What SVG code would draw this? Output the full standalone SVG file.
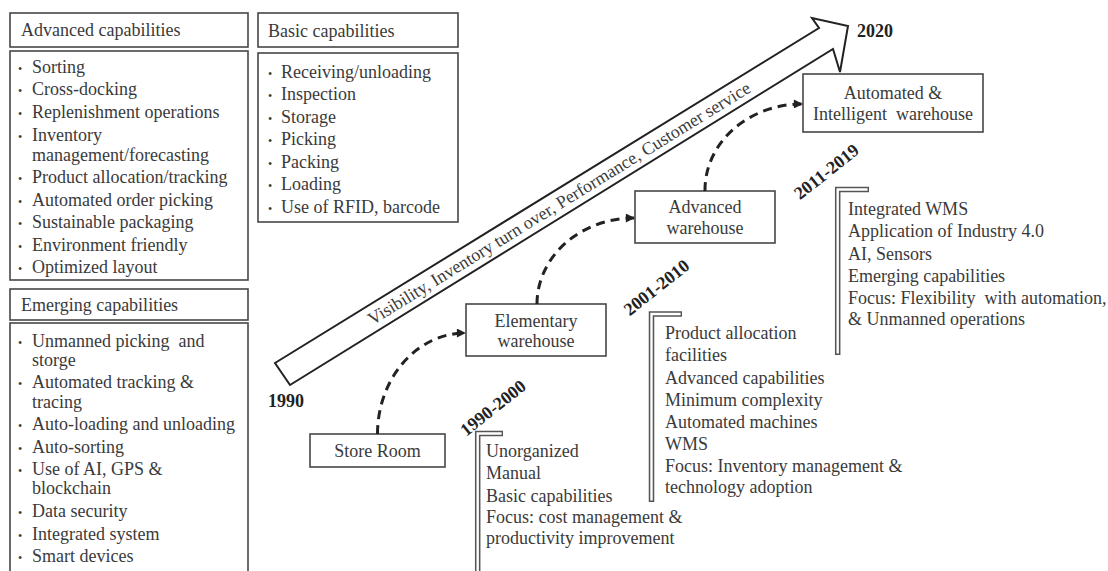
<svg xmlns="http://www.w3.org/2000/svg" width="1108" height="571" viewBox="0 0 1108 571">
<defs>
<style>
.box{fill:#fff;stroke:#474747;stroke-width:1.6}
.t{font-family:"Liberation Serif","Times New Roman",serif;font-size:18px;fill:#3a3a3a}
.c{text-anchor:middle}
.yr{font-family:"Liberation Serif","Times New Roman",serif;font-size:18px;font-weight:bold;fill:#222}
.b{font-size:12px}
.dash{fill:none;stroke:#222;stroke-width:3;stroke-dasharray:9 6}
.brO{fill:none;stroke:#555;stroke-width:5.5;stroke-linejoin:miter}
.brI{fill:none;stroke:#fff;stroke-width:2.4;stroke-linejoin:miter}
</style>
<marker id="ah" viewBox="0 0 10 10" refX="9" refY="5" markerWidth="10" markerHeight="9" markerUnits="userSpaceOnUse" orient="auto">
<path d="M0,0 L10,5 L0,10 Z" fill="#222"/>
</marker>
</defs>

<g id="advanced-capabilities">
<rect class="box" x="10" y="13" width="238" height="34"/>
<text class="t" x="21" y="36">Advanced capabilities</text>
<rect class="box" x="10" y="51" width="238" height="229"/>
<text class="t" x="18" y="73"><tspan class="b">•</tspan></text><text class="t" x="32" y="73">Sorting</text>
<text class="t" x="18" y="95"><tspan class="b">•</tspan></text><text class="t" x="32" y="95">Cross-docking</text>
<text class="t" x="18" y="118"><tspan class="b">•</tspan></text><text class="t" x="32" y="118">Replenishment operations</text>
<text class="t" x="18" y="141"><tspan class="b">•</tspan></text><text class="t" x="32" y="141">Inventory</text>
<text class="t" x="32" y="161">management/forecasting</text>
<text class="t" x="18" y="183"><tspan class="b">•</tspan></text><text class="t" x="32" y="183">Product allocation/tracking</text>
<text class="t" x="18" y="206"><tspan class="b">•</tspan></text><text class="t" x="32" y="206">Automated order picking</text>
<text class="t" x="18" y="228"><tspan class="b">•</tspan></text><text class="t" x="32" y="228">Sustainable packaging</text>
<text class="t" x="18" y="251"><tspan class="b">•</tspan></text><text class="t" x="32" y="251">Environment friendly</text>
<text class="t" x="18" y="273"><tspan class="b">•</tspan></text><text class="t" x="32" y="273">Optimized layout</text>
</g>

<g id="emerging-capabilities">
<rect class="box" x="10" y="289" width="238" height="31"/>
<text class="t" x="21" y="311">Emerging capabilities</text>
<rect class="box" x="10" y="323" width="238" height="260"/>
<text class="t" x="18" y="347"><tspan class="b">•</tspan></text><text class="t" x="32" y="347" xml:space="preserve">Unmanned picking  and</text>
<text class="t" x="32" y="366">storge</text>
<text class="t" x="18" y="388"><tspan class="b">•</tspan></text><text class="t" x="32" y="388">Automated tracking &amp;</text>
<text class="t" x="32" y="408">tracing</text>
<text class="t" x="18" y="430"><tspan class="b">•</tspan></text><text class="t" x="32" y="430">Auto-loading and unloading</text>
<text class="t" x="18" y="453"><tspan class="b">•</tspan></text><text class="t" x="32" y="453">Auto-sorting</text>
<text class="t" x="18" y="475"><tspan class="b">•</tspan></text><text class="t" x="32" y="475">Use of AI, GPS &amp;</text>
<text class="t" x="32" y="494">blockchain</text>
<text class="t" x="18" y="517"><tspan class="b">•</tspan></text><text class="t" x="32" y="517">Data security</text>
<text class="t" x="18" y="540"><tspan class="b">•</tspan></text><text class="t" x="32" y="540">Integrated system</text>
<text class="t" x="18" y="562"><tspan class="b">•</tspan></text><text class="t" x="32" y="562">Smart devices</text>
</g>

<g id="basic-capabilities">
<rect class="box" x="258" y="13" width="200" height="34"/>
<text class="t" x="268" y="37">Basic capabilities</text>
<rect class="box" x="258" y="53" width="200" height="169"/>
<text class="t" x="268" y="78"><tspan class="b">•</tspan></text><text class="t" x="281" y="78">Receiving/unloading</text>
<text class="t" x="268" y="100"><tspan class="b">•</tspan></text><text class="t" x="281" y="100">Inspection</text>
<text class="t" x="268" y="123"><tspan class="b">•</tspan></text><text class="t" x="281" y="123">Storage</text>
<text class="t" x="268" y="145"><tspan class="b">•</tspan></text><text class="t" x="281" y="145">Picking</text>
<text class="t" x="268" y="168"><tspan class="b">•</tspan></text><text class="t" x="281" y="168">Packing</text>
<text class="t" x="268" y="190"><tspan class="b">•</tspan></text><text class="t" x="281" y="190">Loading</text>
<text class="t" x="268" y="213"><tspan class="b">•</tspan></text><text class="t" x="281" y="213">Use of RFID, barcode</text>
</g>

<g id="timeline-arrow">
<polygon points="275,363 819,28 812,18 848,26 840,72 833,49 290,385" fill="#fff" stroke="#222" stroke-width="2" stroke-linejoin="miter"/>
<text class="t c" transform="translate(559,203.3) rotate(-31.69)" y="6" textLength="446" lengthAdjust="spacingAndGlyphs">Visibility, Inventory turn over, Performance, Customer service</text>
<text class="yr" x="268" y="407">1990</text>
<text class="yr" x="857" y="37">2020</text>
</g>

<g id="store-room">
<rect class="box" x="310" y="434" width="135" height="33"/>
<text class="t c" x="377.5" y="457">Store Room</text>
</g>

<g id="elementary-warehouse">
<rect class="box" x="466" y="304" width="140" height="52"/>
<text class="t c" x="536" y="327">Elementary</text>
<text class="t c" x="536" y="347">warehouse</text>
</g>

<g id="advanced-warehouse">
<rect class="box" x="635" y="191" width="140" height="52"/>
<text class="t c" x="705" y="213">Advanced</text>
<text class="t c" x="705" y="234">warehouse</text>
</g>

<g id="automated-warehouse">
<rect class="box" x="803" y="74" width="180" height="58"/>
<text class="t c" x="893" y="99">Automated &amp;</text>
<text class="t c" x="893" y="120" xml:space="preserve">Intelligent  warehouse</text>
</g>

<g id="period-1990-2000">
<text class="yr c" transform="translate(493,408) rotate(-38.4)" y="6">1990-2000</text>
<path class="brO" d="M503,433.5 L477.7,433.5 L477.7,572"/>
<path class="brI" d="M501.6,433.5 L477.7,433.5 L477.7,572"/>
<text class="t" x="486" y="457">Unorganized</text>
<text class="t" x="486" y="479">Manual</text>
<text class="t" x="486" y="502">Basic capabilities</text>
<text class="t" x="486" y="523">Focus: cost management &amp;</text>
<text class="t" x="486" y="544">productivity improvement</text>
</g>

<g id="period-2001-2010">
<text class="yr c" transform="translate(656.5,287.5) rotate(-38.4)" y="6">2001-2010</text>
<path class="brO" d="M682,314 L651.5,314 L651.5,502"/>
<path class="brI" d="M680.6,314 L651.5,314 L651.5,500.6"/>
<text class="t" x="665" y="339">Product allocation</text>
<text class="t" x="665" y="361">facilities</text>
<text class="t" x="665" y="384">Advanced capabilities</text>
<text class="t" x="665" y="406">Minimum complexity</text>
<text class="t" x="665" y="428">Automated machines</text>
<text class="t" x="665" y="450">WMS</text>
<text class="t" x="665" y="472">Focus: Inventory management &amp;</text>
<text class="t" x="665" y="493">technology adoption</text>
</g>

<g id="period-2011-2019">
<text class="yr c" transform="translate(826.5,171.7) rotate(-38.4)" y="6">2011-2019</text>
<path class="brO" d="M869,189.5 L837.7,189.5 L837.7,355"/>
<path class="brI" d="M867.6,189.5 L837.7,189.5 L837.7,353.6"/>
<text class="t" x="848" y="215">Integrated WMS</text>
<text class="t" x="848" y="237">Application of Industry 4.0</text>
<text class="t" x="848" y="260">AI, Sensors</text>
<text class="t" x="848" y="282">Emerging capabilities</text>
<text class="t" x="848" y="304" xml:space="preserve">Focus: Flexibility  with automation,</text>
<text class="t" x="848" y="325">&amp; Unmanned operations</text>
</g>

<g id="connectors">
<path class="dash" d="M377.5,434 A88,101 0 0 1 465,333" marker-end="url(#ah)"/>
<path class="dash" d="M537,304 A97,86 0 0 1 634,218" marker-end="url(#ah)"/>
<path class="dash" d="M705,191 A97,86 0 0 1 802,104" marker-end="url(#ah)"/>
</g>
</svg>
